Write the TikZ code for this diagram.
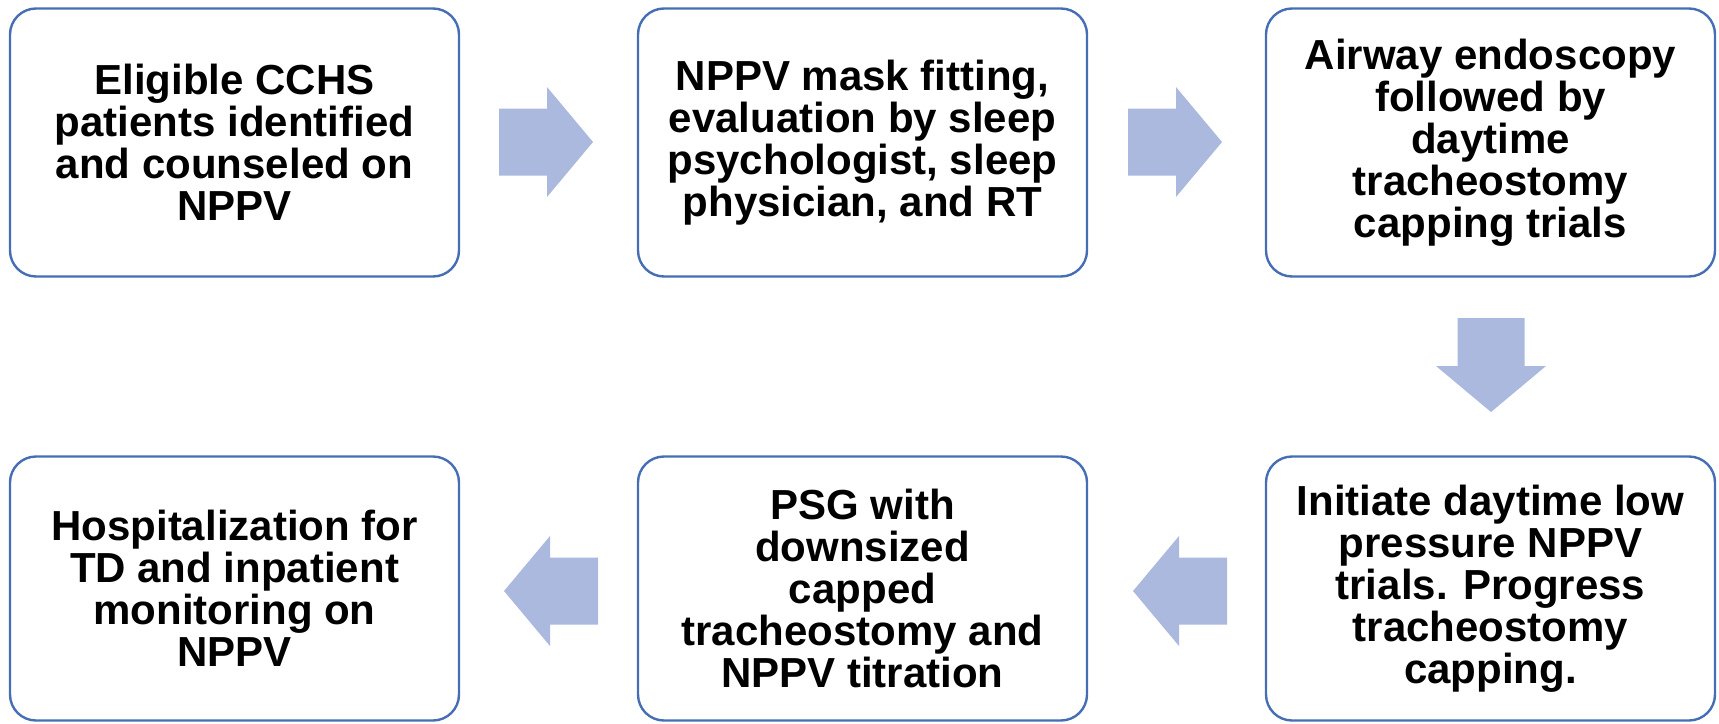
\documentclass[tikz,border=0pt]{standalone}
\usepackage{fontspec}
\setmainfont{Liberation Sans}
\definecolor{boxline}{RGB}{70,110,180}
\definecolor{arrowfill}{RGB}{172,185,222}
\tikzset{
  x=1pt, y=-1pt,
  stepbox/.style={draw=boxline, line width=2.4pt, rounded corners=26pt, fill=white,
    minimum width=449pt, minimum height=268pt, align=center, inner sep=0pt,
    font=\bfseries\fontsize{42}{42}\selectfont},
  blockarrow/.pic={\fill[arrowfill] (-47,-33.5) -- (1,-33.5) -- (1,-55) -- (47,0) -- (1,55) -- (1,33.5) -- (-47,33.5) -- cycle;}
}
\begin{document}
\begin{tikzpicture}
\useasboundingbox (0,0) rectangle (1719,723);
\node[stepbox] (b1) at (234.5,142.5) {Eligible CCHS\\patients identified\\and counseled on\\NPPV};
\node[stepbox] (b2) at (862.5,142.5) {NPPV mask fitting,\\evaluation by sleep\\psychologist, sleep\\physician, and RT};
\node[stepbox] (b3) at (1490.5,142.5) {Airway endoscopy\\followed by\\daytime\\tracheostomy\\capping trials};
\node[stepbox, minimum height=264pt] (b6) at (1490.5,588.5) {Initiate daytime low\\pressure NPPV\\trials. Progress\\tracheostomy\\capping.};
\node[stepbox, minimum height=264pt] (b5) at (862.5,588.5) {PSG with\\downsized\\capped\\tracheostomy and\\NPPV titration};
\node[stepbox, minimum height=264pt] (b4) at (234.5,588.5) {Hospitalization for\\TD and inpatient\\monitoring on\\NPPV};
\coordinate (a1) at (546,142);
\coordinate (a2) at (1175,142);
\coordinate (a3) at (1491,365);
\coordinate (a4) at (1180,591);
\coordinate (a5) at (551,591);
\pic at (a1) {blockarrow};
\pic at (a2) {blockarrow};
\pic[rotate=-90] at (a3) {blockarrow};
\pic[rotate=180] at (a4) {blockarrow};
\pic[rotate=180] at (a5) {blockarrow};
\end{tikzpicture}
\end{document}
